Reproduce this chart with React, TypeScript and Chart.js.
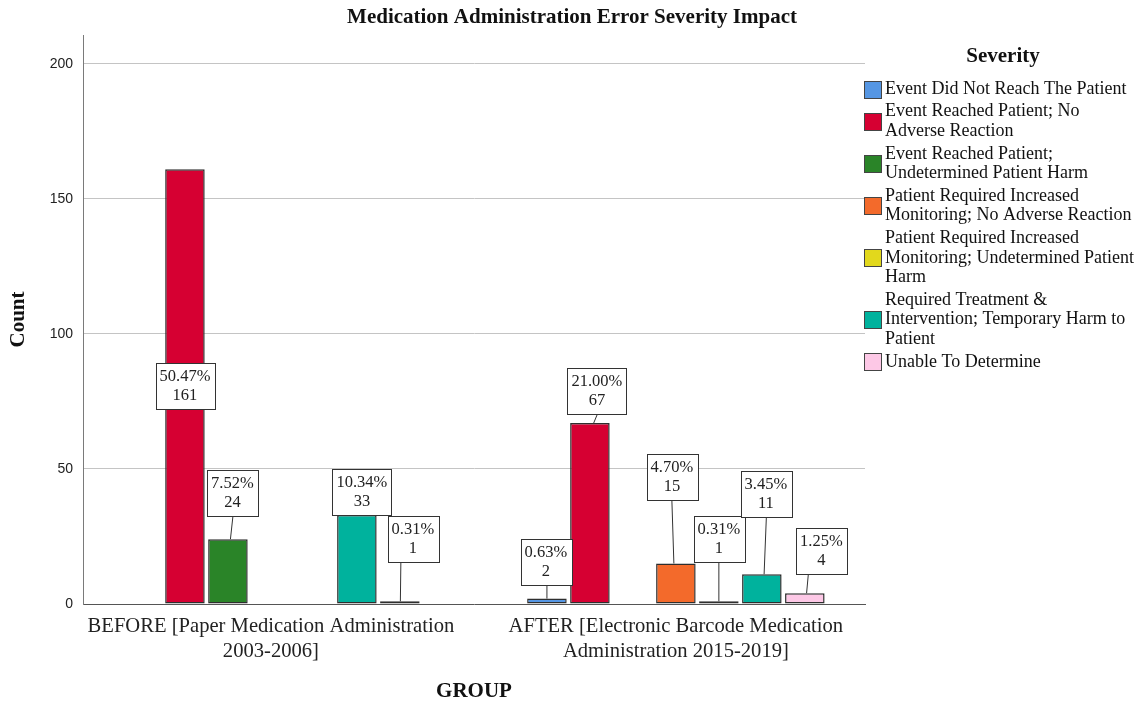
import React, { useEffect, useRef } from 'react';
import { Chart, registerables } from 'chart.js';

Chart.register(...registerables);

// ---------- data ----------
const chartTitle = 'Medication Administration Error Severity Impact';
const xTitle = 'GROUP';
const yTitle = 'Count';
const legendTitle = 'Severity';

const groupLabels: string[][] = [
  ['BEFORE [Paper Medication Administration', '2003-2006]'],
  ['AFTER [Electronic Barcode Medication', 'Administration 2015-2019]'],
];

const severities: string[] = [
  'Event Did Not Reach The Patient',
  'Event Reached Patient; No Adverse Reaction',
  'Event Reached Patient; Undetermined Patient Harm',
  'Patient Required Increased Monitoring; No Adverse Reaction',
  'Patient Required Increased Monitoring; Undetermined Patient Harm',
  'Required Treatment & Intervention; Temporary Harm to Patient',
  'Unable To Determine',
];

const beforeCounts: number[] = [0, 161, 24, 0, 0, 33, 1];
const afterCounts: number[] = [2, 67, 0, 15, 1, 11, 4];

const yTickValues: number[] = [0, 50, 100, 150, 200];

// ---------- styles ----------
const seriesColors = ['#5596e3', '#d60032', '#2a8428', '#f36a2b', '#e2d81c', '#00b29d', '#fdc8e6'];
const SERIF = "'Liberation Serif', 'Times New Roman', serif";
const SANS = "'Liberation Sans', Arial, sans-serif";

// label box placement (pixels, relative to the bar's top centre): dx, gap above bar, leader x
const labelPlacement: Record<string, { mid?: boolean; dx?: number; gap?: number; lx?: number }> = {
  '0-1': { mid: true },
  '0-2': { dx: 4.5, gap: 23, lx: 5 },
  '0-5': { dx: 5, gap: 0, lx: 0 },
  '0-6': { dx: 13, gap: 39, lx: 1 },
  '1-0': { dx: -1, gap: 14, lx: 0 },
  '1-1': { dx: 7, gap: 9, lx: 7.5 },
  '1-3': { dx: -4, gap: 63, lx: -4 },
  '1-4': { dx: 0, gap: 39, lx: 0 },
  '1-5': { dx: 4, gap: 57, lx: 4.5 },
  '1-6': { dx: 16.5, gap: 19, lx: 3.5 },
};

const groupCounts = [beforeCounts, afterCounts];
const total = [...beforeCounts, ...afterCounts].reduce((a, b) => a + b, 0);

const labelsPlugin = {
  id: 'boxLabels',
  afterDatasetsDraw(chart: any) {
    const ctx = chart.ctx;
    ctx.save();
    ctx.font = `16.5px ${SERIF}`;
    ctx.textAlign = 'center';
    ctx.textBaseline = 'middle';
    chart.data.datasets.forEach((ds: any, si: number) => {
      const meta = chart.getDatasetMeta(si);
      meta.data.forEach((el: any, gi: number) => {
        const v = groupCounts[gi][si];
        if (!v) return;
        const p = labelPlacement[`${gi}-${si}`] || { dx: 0, gap: 10, lx: 0 };
        const line1 = ((v / total) * 100).toFixed(2) + '%';
        const line2 = String(v);
        const w = Math.max(ctx.measureText(line1).width, ctx.measureText(line2).width) + 8;
        const h = 46;
        const cx = el.x + (p.dx || 0);
        let top: number;
        if (p.mid) {
          const midY = (el.y + el.base) / 2;
          top = midY - h / 2;
        } else {
          top = el.y - (p.gap || 0) - h;
          const lx = p.lx || 0;
          if ((p.gap || 0) > 0) {
            ctx.strokeStyle = '#333';
            ctx.lineWidth = 1;
            ctx.beginPath();
            ctx.moveTo(el.x + lx, top + h);
            ctx.lineTo(el.x + lx / 2, el.y);
            ctx.stroke();
          }
        }
        const left = Math.round(cx - w / 2) + 0.5;
        const t = Math.round(top) + 0.5;
        ctx.fillStyle = '#fff';
        ctx.fillRect(left, t, Math.round(w), h);
        ctx.strokeStyle = '#333';
        ctx.lineWidth = 1;
        ctx.strokeRect(left, t, Math.round(w), h);
        ctx.fillStyle = '#222';
        ctx.fillText(line1, cx, t + h / 2 - 9.5);
        ctx.fillText(line2, cx, t + h / 2 + 9.5);
      });
    });
    ctx.restore();
  },
};

function wrapText(ctx: CanvasRenderingContext2D, text: string, maxW: number): string[] {
  const words = text.split(' ');
  const lines: string[] = [];
  let cur = '';
  for (const w of words) {
    const test = cur ? cur + ' ' + w : w;
    if (ctx.measureText(test).width > maxW && cur) {
      lines.push(cur);
      cur = w;
    } else cur = test;
  }
  if (cur) lines.push(cur);
  return lines;
}

const decorPlugin = {
  id: 'decor',
  afterDraw(chart: any) {
    const ctx = chart.ctx as CanvasRenderingContext2D;
    const area = chart.chartArea;
    ctx.save();
    ctx.fillStyle = '#111';
    ctx.textAlign = 'center';
    ctx.textBaseline = 'middle';
    // chart title
    ctx.font = `bold 21px ${SERIF}`;
    ctx.fillText(chartTitle, 572, 18);
    // x title
    ctx.font = `bold 21px ${SERIF}`;
    ctx.fillText(xTitle, (area.left + area.right) / 2, 692);
    // y title
    ctx.save();
    ctx.translate(19, (area.top + area.bottom) / 2);
    ctx.rotate(-Math.PI / 2);
    ctx.fillText(yTitle, 0, 0);
    ctx.restore();
    // legend
    ctx.font = `bold 21px ${SERIF}`;
    ctx.fillText(legendTitle, 1003, 57);
    ctx.font = `18px ${SERIF}`;
    ctx.textAlign = 'left';
    const lineH = 19.6;
    let y = 89;
    severities.forEach((s, i) => {
      const lines = wrapText(ctx, s, 256);
      const blockCenter = y + ((lines.length - 1) * lineH) / 2;
      ctx.fillStyle = seriesColors[i];
      ctx.fillRect(864.5, Math.round(blockCenter - 8.5) + 0.5, 17, 17);
      ctx.strokeStyle = '#444';
      ctx.lineWidth = 1;
      ctx.strokeRect(864.5, Math.round(blockCenter - 8.5) + 0.5, 17, 17);
      ctx.fillStyle = '#111';
      lines.forEach((ln, k) => ctx.fillText(ln, 885, y + k * lineH));
      y += lines.length * lineH + 3;
    });
    ctx.restore();
  },
};

export default function App() {
  const ref = useRef<HTMLCanvasElement | null>(null);
  useEffect(() => {
    document.body.style.margin = '0';
    const canvas = ref.current!;
    const datasets = severities.map((s, i) => ({
      label: s,
      data: groupCounts.map((g, gi) => ({ x: gi, y: g[i] ? g[i] : null })),
      backgroundColor: seriesColors[i],
      borderColor: '#2e2e2e',
      borderWidth: 1.5,
      borderSkipped: false as const,
      categoryPercentage: 0.743,
      barPercentage: 0.92,
    }));
    const chart = new Chart(canvas, {
      type: 'bar',
      data: { datasets },
      options: {
        responsive: false,
        animation: false,
        layout: { padding: { top: 35, right: 282, left: 0, bottom: 0 } },
        plugins: { legend: { display: false }, title: { display: false }, tooltip: { enabled: false } },
        scales: {
          x: {
            type: 'linear',
            min: -0.464,
            max: 1.467,
            offset: false,
            afterBuildTicks: (s: any) => {
              s.ticks = groupLabels.map((_, i) => ({ value: i }));
            },
            afterFit: (s: any) => {
              s.height = 100;
            },
            ticks: {
              autoSkip: false,
              maxRotation: 0,
              padding: 10,
              color: '#222',
              font: { family: SERIF, size: 20.6, lineHeight: 1.22 },
              callback: (v: any) => groupLabels[Math.round(Number(v))] || '',
            },
            grid: { color: 'rgba(0,0,0,0)', drawTicks: false },
            border: { display: true, color: '#555', width: 1 },
          },
          y: {
            min: 0,
            max: 210.7,
            afterBuildTicks: (s: any) => {
              s.ticks = yTickValues.map((v) => ({ value: v }));
            },
            afterFit: (s: any) => {
              s.width = 83;
            },
            ticks: {
              padding: 10,
              color: '#222',
              font: { family: SANS, size: 14 },
            },
            grid: {
              drawTicks: false,
              color: (c: any) => (c.tick && c.tick.value === 0 ? 'rgba(0,0,0,0)' : '#c4c4c4'),
            },
            border: { display: true, color: '#7a7a7a', width: 1 },
          },
        },
      },
      plugins: [labelsPlugin, decorPlugin],
    });
    return () => chart.destroy();
  }, []);
  return (
    <div style={{ width: 1147, height: 704, background: '#fff' }}>
      <canvas ref={ref} width={1147} height={704} style={{ display: 'block' }} />
    </div>
  );
}
